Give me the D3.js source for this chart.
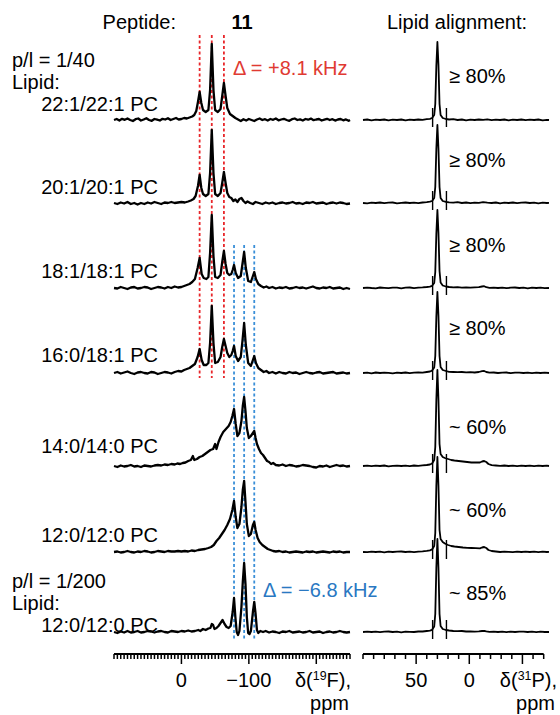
<!DOCTYPE html>
<html>
<head>
<meta charset="utf-8">
<script src="https://cdn.jsdelivr.net/npm/d3@7"></script>
<style>
  body { margin: 0; background: #fff; }
  text { font-family: "Liberation Sans", Arial, sans-serif; }
</style>
</head>
<body>
<div id="chart"></div>
<script>
// ---- data ----
const rowLabels = ['22:1/22:1 PC', '20:1/20:1 PC', '18:1/18:1 PC', '16:0/18:1 PC', '14:0/14:0 PC', '12:0/12:0 PC', '12:0/12:0 PC'];
const alignment = ['≥ 80%', '≥ 80%', '≥ 80%', '≥ 80%', '~ 60%', '~ 60%', '~ 85%'];
const ratioLabels = ['p/l = 1/40', 'p/l = 1/200'];
const redLines = [-27, -45, -63];   // 19F ppm
const blueLines = [-78, -93, -108]; // 19F ppm
const fLabelTicks = [0, -100];
const fMajorTicks = [0, -100, -200];
const pLabelTicks = [50, 0];
const pMajorTicks = [50, 0, -50];
const pMarks = [34.5, 21.5]; // little vertical markers on the 31P traces

// 19F spectra: [ppm, intensity]
const f1 = [[100,0],[96,1],[92,-0.5],[88,1.2],[84,0.2],[80,1.5],[76,0],[72,-1],[68,0.8],[64,1.5],[60,-0.5],[56,0.5],[52,1.8],[48,0],[44,-0.8],[40,1],[36,0.3],[32,-0.5],[28,1.2],[24,0.5],[20,1.8],[16,0],[12,1],[8,2],[4,0.5],[0,1],[-4,2],[-8,1.5],[-12,2.5],[-16,3.5],[-19,5],[-22,9],[-24.5,18],[-27,28],[-29.5,17],[-32,10],[-36,8],[-40,10],[-42.5,30],[-45,76],[-47.5,30],[-50,10],[-54,8],[-58,11],[-60.5,24],[-63,37],[-65.5,24],[-68,12],[-72,6],[-76,4],[-80,2],[-84,0.5],[-88,-1],[-92,0.8],[-96,-0.5],[-100,1],[-104,0],[-108,-1],[-112,0.5],[-116,1.5],[-120,0],[-124,0.8],[-128,-0.5],[-132,1],[-136,0.2],[-140,1.5],[-144,-0.3],[-148,0.5],[-152,1.2],[-156,0],[-160,-0.8],[-164,0.8],[-168,1.5],[-172,0],[-176,0.6],[-180,-0.5],[-184,1],[-188,0.3],[-192,1.4],[-196,-0.2],[-200,0.5],[-204,1],[-208,-0.5],[-212,0.4],[-216,1.2],[-220,0],[-224,0.8],[-228,-0.6],[-232,0.5],[-236,1],[-240,-0.3],[-244,0.6],[-248,-0.8],[-250,0]];
const f2 = [[100,0],[95,-1],[90,0.5],[85,-0.5],[80,1],[75,-1],[70,0],[65,-1.5],[60,0],[55,-1],[50,0.5],[45,-0.5],[40,1],[35,0],[30,-1],[25,0.5],[20,0],[15,1],[10,0],[5,0.5],[0,1],[-5,0.5],[-10,1.5],[-14,2.5],[-18,4],[-21,7],[-24.5,17],[-27,28],[-29.5,15],[-32,9],[-36,7],[-40,9],[-42.5,30],[-45,73],[-47.5,30],[-50,9],[-54,7],[-58,10],[-60.5,20],[-63,31],[-65.5,20],[-68,10],[-71,6],[-74,5],[-77,2],[-80,3.5],[-83,1],[-86,4],[-89,5],[-92,2],[-95,0],[-98,1.5],[-102,0],[-106,-1],[-110,1],[-115,0],[-120,-1],[-125,0.5],[-130,-0.5],[-135,0.5],[-140,-1],[-145,0],[-150,0.5],[-155,-0.5],[-160,0],[-165,1],[-170,-0.5],[-175,0],[-180,-1],[-185,0.5],[-190,0],[-195,1],[-200,-0.5],[-205,0],[-210,0.5],[-215,-1],[-220,0],[-225,0.5],[-230,-0.5],[-235,0.5],[-240,0],[-245,-1],[-250,-0.5]];
const f3 = [[100,0],[95,-0.5],[90,1],[85,0],[80,-1],[75,0.5],[70,1],[65,-0.5],[60,0],[55,1],[50,0.5],[45,-1],[40,0],[35,1],[30,0.5],[25,-0.5],[20,1],[15,0],[10,1.5],[5,0.5],[0,1],[-4,2],[-8,3],[-12,4],[-16,6],[-20,9],[-24,20],[-27,30],[-30,14],[-33,10],[-37,9],[-40,11],[-42.5,35],[-45,73],[-47.5,32],[-50,11],[-54,10],[-58,13],[-60.5,26],[-63,37],[-65.5,24],[-68,15],[-71,13],[-74,14],[-76,18],[-78,23],[-80.5,15],[-84,10],[-88,12],[-90.5,24],[-93,36],[-95.5,20],[-99,7],[-103,6],[-106,12],[-108,16],[-110.5,9],[-114,4],[-118,2],[-122,0.5],[-126,1.5],[-130,0],[-135,1],[-140,-0.5],[-145,0.5],[-150,0],[-155,1],[-160,-0.5],[-165,0],[-170,1],[-175,0],[-180,0.5],[-185,-0.5],[-190,0.5],[-195,1.5],[-200,0],[-205,-0.5],[-210,0.5],[-215,0],[-220,1],[-225,-0.5],[-230,0],[-235,0.5],[-240,-1],[-245,0],[-250,-1]];
const f4 = [[100,0],[95,1],[90,-0.5],[85,0.5],[80,1.5],[75,0],[70,-1],[65,0.5],[60,1],[55,0],[50,-0.5],[45,1],[40,0.5],[35,-1],[30,0],[25,1],[20,0.5],[15,-0.5],[10,1],[5,2],[0,1.5],[-4,3],[-8,4],[-12,5],[-16,7],[-20,9],[-24,16],[-27,24],[-30,13],[-33,8],[-37,8],[-40,10],[-42.5,30],[-45,67],[-47.5,30],[-50,10],[-54,11],[-58,16],[-60.5,26],[-63,34],[-65.5,27],[-68,20],[-71,16],[-74,18],[-76,22],[-78,27],[-80.5,17],[-84,12],[-88,16],[-90.5,32],[-93,50],[-95.5,28],[-99,10],[-103,7],[-106,13],[-108,17],[-110.5,10],[-114,5],[-118,3],[-122,1],[-126,2],[-130,0],[-135,1],[-140,-0.5],[-145,1],[-150,0],[-155,-0.5],[-160,1],[-165,0],[-170,0.5],[-175,-1],[-180,0],[-185,1],[-190,0],[-195,-0.5],[-200,0.5],[-205,1],[-210,-0.5],[-215,0],[-220,0.5],[-225,1],[-230,-0.5],[-235,0],[-240,0.5],[-245,-0.5],[-250,0]];
const f5 = [[100,0],[95,-1],[90,0.5],[85,-0.5],[80,0],[75,1],[70,-0.5],[65,0],[60,-1],[55,0.5],[50,0],[45,-0.5],[40,0.5],[35,1],[30,0.5],[25,1.5],[20,1],[15,2],[10,1.5],[6,2.5],[2,2],[-2,3],[-6,3.5],[-10,5],[-14,6],[-17,10],[-19,6],[-23,7],[-27,9],[-31,10],[-35,12],[-39,14],[-43,16],[-47,17],[-50,22],[-52,17],[-55,24],[-58,29],[-62,34],[-66,37],[-70,40],[-73,44],[-75.5,50],[-78,57],[-80.5,42],[-83,30],[-86,33],[-89,45],[-91,60],[-93,69],[-95,55],[-97,38],[-100,28],[-103,30],[-106,33],[-108,35],[-110,28],[-112,22],[-115,17],[-118,13],[-121,11],[-124,8],[-127,5],[-130,4],[-133,2],[-136,3],[-140,1],[-145,0.5],[-150,1.5],[-155,0],[-160,1],[-165,0.5],[-170,-0.5],[-175,0],[-180,1],[-185,0.5],[-190,0],[-195,-1],[-200,-1.5],[-205,0],[-210,-0.5],[-215,0.5],[-220,-1],[-225,0],[-230,1],[-235,0],[-240,0.5],[-245,-0.5],[-250,0]];
const f6 = [[100,0],[95,0.5],[90,-0.5],[85,0],[80,1],[75,0],[70,-0.5],[65,0.5],[60,0],[55,1],[50,0.5],[45,-0.5],[40,0],[35,1],[30,0.5],[25,0],[20,1],[15,0.5],[10,0.5],[5,1],[0,0.5],[-5,1],[-10,0.5],[-15,1.5],[-20,1],[-25,2],[-30,2.5],[-35,3],[-40,4],[-44,5],[-48,7],[-52,11],[-56,14],[-60,18],[-64,22],[-68,27],[-72,33],[-75.5,42],[-78,51],[-80.5,35],[-83,24],[-86,28],[-89,45],[-91,62],[-93,71],[-95,50],[-97,28],[-100,16],[-103,18],[-106,27],[-108,30],[-110,22],[-113,14],[-116,10],[-120,7],[-124,5],[-128,3],[-132,2],[-136,1],[-140,0.5],[-145,1],[-150,0],[-155,0.5],[-160,-0.5],[-165,0],[-170,0.5],[-175,0],[-180,-0.5],[-185,0.5],[-190,0],[-195,0.5],[-200,-0.5],[-205,0],[-210,0.5],[-215,0],[-220,-0.5],[-225,0.5],[-230,0],[-235,0.5],[-240,-0.5],[-245,0],[-250,0]];
const f7 = [[100,0],[95,-1],[90,0.5],[85,-0.5],[80,1],[75,-0.5],[70,0],[65,1],[60,-0.5],[55,0],[50,1],[45,0.5],[40,-0.5],[35,0.5],[30,1],[25,0],[20,-0.5],[15,1],[10,0.5],[5,0],[0,1],[-5,0.5],[-10,1.5],[-15,0.5],[-20,1],[-25,2],[-28,1],[-32,3],[-36,2],[-40,3.5],[-43,4],[-45,8],[-47,7],[-49,3],[-52,4],[-55,6],[-58,9],[-61,12],[-64,8],[-67,5],[-70,4],[-73,6],[-76,20],[-78,34],[-80,15],[-82,0],[-84,-3],[-86,1],[-89,25],[-91,50],[-93,69],[-95,48],[-97,15],[-99,-1],[-101,-2],[-103,1],[-106,20],[-108,30],[-110,18],[-112,2],[-114,-1],[-117,1],[-121,0],[-125,1],[-130,-0.5],[-135,0.5],[-140,0],[-145,-1],[-150,0.5],[-155,0],[-160,1],[-165,-0.5],[-170,0],[-175,0.5],[-180,-0.5],[-185,0],[-190,1],[-195,-0.5],[-200,0],[-205,0.5],[-210,-1],[-215,0],[-220,0.5],[-225,-0.5],[-230,0],[-235,1],[-240,0],[-245,-0.5],[-250,0]];

// 31P spectra: [ppm, intensity]
const p1 = [[100,0],[96,0.5],[92,-0.3],[88,0.4],[84,0],[80,0.5],[76,-0.3],[72,0.3],[68,0],[64,0.5],[60,-0.4],[56,0.3],[52,0],[48,0.5],[44,0.2],[40,0.8],[37,1.2],[35,2],[33,5],[32,16],[31,54],[30,78],[29,55],[28,16],[27,5],[25,2],[22,1],[19,0.5],[15,0.8],[11,0],[7,0.5],[3,-0.3],[-1,0.4],[-5,0],[-9,0.5],[-13,0.2],[-17,0.6],[-21,-0.2],[-25,0.3],[-29,0],[-33,0.5],[-37,-0.3],[-41,0.3],[-45,0],[-49,0.5],[-53,-0.2],[-57,0.3],[-61,0],[-65,0.5],[-69,-0.3],[-73,0.2],[-75,0]];
const p2 = [[100,0],[96,-0.3],[92,0.4],[88,0],[84,0.5],[80,-0.2],[76,0.3],[72,0.5],[68,-0.3],[64,0.2],[60,0.5],[56,0],[52,0.4],[48,-0.2],[44,0.5],[40,0.9],[37,1.3],[35,2],[33,5],[32,16],[31,54],[30,78],[29,54],[28,16],[27,5],[25,2],[22,1.2],[19,0.6],[15,0.3],[11,0.8],[7,0],[3,0.5],[-1,-0.2],[-5,0.4],[-9,0.2],[-13,0.8],[-17,0.3],[-21,0],[-25,0.5],[-29,-0.3],[-33,0.3],[-37,0],[-41,0.5],[-45,-0.2],[-49,0.3],[-53,0.5],[-57,0],[-61,0.3],[-65,-0.3],[-69,0.4],[-73,0],[-75,0.2]];
const p3 = [[100,0],[96,0.4],[92,0],[88,-0.3],[84,0.5],[80,0.2],[76,-0.2],[72,0.4],[68,0.3],[64,-0.3],[60,0.3],[56,0.5],[52,-0.2],[48,0.3],[44,0.6],[40,1],[37,1.4],[35,2.2],[33,5],[32,16],[31,54],[30,78],[29,55],[28,17],[27,5.5],[25,2.5],[22,1.5],[19,1],[15,0.6],[11,0.8],[7,0.4],[3,0.6],[-1,0.3],[-5,0.6],[-9,0.8],[-12,1.5],[-14,1.8],[-16,0.8],[-19,0.2],[-23,0.4],[-27,0],[-31,0.4],[-35,-0.2],[-39,0.3],[-43,0.5],[-47,0],[-51,0.3],[-55,-0.3],[-59,0.4],[-63,0],[-67,0.3],[-71,-0.2],[-75,0]];
const p4 = [[100,0],[96,0.3],[92,-0.3],[88,0.5],[84,0],[80,0.4],[76,0.2],[72,-0.3],[68,0.4],[64,0],[60,0.5],[56,-0.2],[52,0.3],[48,0.5],[44,0.4],[40,1],[37,1.5],[35,2.4],[33,5.5],[32,17],[31,56],[30,81],[29,57],[28,17],[27,6],[25,3],[22,2],[19,1.2],[15,1],[11,0.8],[7,1],[3,0.6],[-1,0.8],[-5,0.5],[-9,1],[-12,1.8],[-14,2],[-16,1],[-19,0.3],[-23,0.5],[-27,0],[-31,0.3],[-35,0.5],[-39,-0.2],[-43,0.3],[-47,0.4],[-51,0],[-55,0.4],[-59,-0.2],[-63,0.3],[-67,0],[-71,0.4],[-75,0]];
const p5 = [[100,0],[96,0.4],[92,-0.2],[88,0.3],[84,0],[80,0.5],[76,-0.3],[72,0.2],[68,0.4],[64,0],[60,0.3],[56,-0.2],[52,0.5],[48,0.2],[44,0.6],[40,1],[37,1.5],[35,2.5],[33,6],[32,19],[31,66],[30,96],[29,66],[28,22],[27,12],[25,9],[23,8],[20,7],[17,6],[14,5.5],[10,5],[6,4.5],[2,4],[-2,3.5],[-6,3.5],[-10,3.5],[-12,4.5],[-14,5],[-16,4],[-18,2],[-21,0.8],[-25,0.5],[-29,0.2],[-33,0.5],[-37,0],[-41,0.4],[-45,-0.2],[-49,0.3],[-53,0],[-57,0.4],[-61,-0.2],[-65,0.3],[-69,0],[-73,0.3],[-75,0]];
const p6 = [[100,0],[96,-0.2],[92,0.4],[88,0],[84,0.3],[80,-0.3],[76,0.4],[72,0],[68,0.3],[64,0.5],[60,0],[56,0.4],[52,-0.2],[48,0.4],[44,0.7],[40,1.1],[37,1.6],[35,2.6],[33,6],[32,19],[31,66],[30,95],[29,66],[28,22],[27,13],[25,10],[23,8.5],[20,7],[17,6],[14,5.5],[10,5],[6,4.5],[2,4.2],[-2,4],[-6,3.8],[-10,3.6],[-12,4.5],[-14,5],[-16,4],[-18,2],[-21,1],[-25,0.5],[-29,0],[-33,0.4],[-37,0.2],[-41,-0.2],[-45,0.3],[-49,0],[-53,0.4],[-57,0],[-61,0.3],[-65,-0.2],[-69,0.3],[-73,0],[-75,0.2]];
const p7 = [[100,0],[96,0.3],[92,0],[88,0.4],[84,-0.2],[80,0.3],[76,0.5],[72,0],[68,0.3],[64,-0.3],[60,0.4],[56,0.2],[52,0],[48,0.5],[44,0.5],[40,1],[37,1.4],[35,2.2],[33,5.5],[32,18],[31,64],[30,93],[29,64],[28,18],[27,6],[25,3],[22,2],[19,1.5],[15,1],[11,0.8],[7,1],[3,0.5],[-1,0.7],[-5,0.4],[-9,0.6],[-12,1],[-14,1.2],[-16,0.6],[-19,0.2],[-23,0.4],[-27,0],[-31,0.3],[-35,-0.2],[-39,0.4],[-43,0],[-47,0.3],[-51,0.4],[-55,0],[-59,0.3],[-63,-0.2],[-67,0.3],[-71,0],[-75,0]];

const fSpectra = [f1, f2, f3, f4, f5, f6, f7];
const pSpectra = [p1, p2, p3, p4, p5, p6, p7];

// ---- layout ----
const width = 560, height = 715;
const rowY = [120, 203, 288, 373, 466, 552, 632];       // trace baselines
const labelY = [111, 194, 278, 362, 453, 542, 632];     // row label baselines
const alignY = [83, 167, 252, 335, 434, 517, 600];
const fontSize = 20;

const svg = d3.select('#chart').append('svg')
  .attr('width', width)
  .attr('height', height);

const xF = d3.scaleLinear().domain([100, -250]).range([114, 350]);
const xP = d3.scaleLinear().domain([100, -75]).range([363, 549]);
const yRow = (i) => d3.scaleLinear().domain([0, 100]).range([rowY[i], rowY[i] - 100]);

// headers
svg.append('text').attr('x', 176).attr('y', 29).attr('text-anchor', 'end')
  .attr('font-size', fontSize).text('Peptide:');
svg.append('text').attr('x', 242).attr('y', 29).attr('text-anchor', 'middle')
  .attr('font-size', fontSize).attr('font-weight', 'bold').text('11');
svg.append('text').attr('x', 457).attr('y', 29).attr('text-anchor', 'middle')
  .attr('font-size', fontSize).text('Lipid alignment:');

// p/l + Lipid: headings
[[ratioLabels[0], 67], ['Lipid:', 89], [ratioLabels[1], 588], ['Lipid:', 610]].forEach(([t, y]) => {
  svg.append('text').attr('x', 12).attr('y', y).attr('font-size', fontSize).text(t);
});

// row labels
svg.selectAll('.rowlab').data(rowLabels).join('text')
  .attr('class', 'rowlab')
  .attr('x', 158)
  .attr('y', (d, i) => labelY[i])
  .attr('text-anchor', 'end')
  .attr('font-size', fontSize)
  .text((d) => d);

// dashed guide lines (behind the traces)
svg.selectAll('.red').data(redLines).join('line')
  .attr('class', 'red')
  .attr('x1', (d) => xF(d)).attr('x2', (d) => xF(d))
  .attr('y1', 35).attr('y2', 378)
  .attr('stroke', '#e8262a').attr('stroke-width', 1.8)
  .attr('stroke-dasharray', '3,2.5');
svg.selectAll('.blue').data(blueLines).join('line')
  .attr('class', 'blue')
  .attr('x1', (d) => xF(d)).attr('x2', (d) => xF(d))
  .attr('y1', 245).attr('y2', 640)
  .attr('stroke', '#3a8fd8').attr('stroke-width', 1.8)
  .attr('stroke-dasharray', '3,2.5');

// spectra
const lineF = (i) => d3.line().x((d) => xF(d[0])).y((d) => yRow(i)(d[1]));
const lineP = (i) => d3.line().x((d) => xP(d[0])).y((d) => yRow(i)(d[1]));

svg.selectAll('.fspec').data(fSpectra).join('path')
  .attr('class', 'fspec')
  .attr('d', (d, i) => lineF(i)(d))
  .attr('fill', 'none')
  .attr('stroke', '#000')
  .attr('stroke-width', 2.3)
  .attr('stroke-linejoin', 'round');

svg.selectAll('.pspec').data(pSpectra).join('path')
  .attr('class', 'pspec')
  .attr('d', (d, i) => lineP(i)(d))
  .attr('fill', 'none')
  .attr('stroke', '#000')
  .attr('stroke-width', 1.8)
  .attr('stroke-linejoin', 'round');

// small markers on 31P traces
rowY.forEach((y0, i) => {
  svg.selectAll(`.pm${i}`).data(pMarks).join('line')
    .attr('class', `pm${i}`)
    .attr('x1', (d) => xP(d)).attr('x2', (d) => xP(d))
    .attr('y1', yRow(i)(12)).attr('y2', yRow(i)(-7))
    .attr('stroke', '#000').attr('stroke-width', 1.4);
});

svg.append('text').attr('x', 233).attr('y', 75).attr('font-size', fontSize)
  .attr('fill', '#e03a32').text('Δ = +8.1 kHz');
svg.append('text').attr('x', 263).attr('y', 597).attr('font-size', fontSize)
  .attr('fill', '#2a78c2').text('Δ = −6.8 kHz');

// alignment labels
svg.selectAll('.align').data(alignment).join('text')
  .attr('class', 'align')
  .attr('x', 449)
  .attr('y', (d, i) => alignY[i])
  .attr('font-size', fontSize)
  .text((d) => d);

// axes
const axisY = 654;
const drawAxis = (x, step, majors, labels, lo, hi) => {
  const g = svg.append('g');
  g.append('line').attr('x1', x(lo)).attr('x2', x(hi))
    .attr('y1', axisY).attr('y2', axisY)
    .attr('stroke', '#000').attr('stroke-width', 2);
  const ticks = d3.range(lo, hi - 0.001, -step);
  g.selectAll('.tk').data(ticks).join('line')
    .attr('class', 'tk')
    .attr('x1', (d) => x(d)).attr('x2', (d) => x(d))
    .attr('y1', axisY)
    .attr('y2', (d) => axisY + (majors.includes(d) ? 10 : 5))
    .attr('stroke', '#000').attr('stroke-width', 1.5);
  g.selectAll('.lb').data(labels).join('text')
    .attr('class', 'lb')
    .attr('x', (d) => x(d)).attr('y', axisY + 33)
    .attr('text-anchor', 'middle').attr('font-size', fontSize)
    .text((d) => (d < 0 ? '−' + Math.abs(d) : d));
};
drawAxis(xF, 5, fMajorTicks, fLabelTicks, 100, -250);
drawAxis(xP, 10, pMajorTicks, pLabelTicks, 100, -70);

// axis titles
const axTitle = (xEnd, nucleus, sup) => {
  const t = svg.append('text').attr('x', xEnd).attr('y', axisY + 33)
    .attr('text-anchor', 'end').attr('font-size', fontSize);
  t.append('tspan').text('δ(');
  t.append('tspan').attr('font-size', fontSize * 0.62).attr('dy', -7).text(sup);
  t.append('tspan').attr('dy', 7).text(nucleus + '),');
  svg.append('text').attr('x', xEnd - 2).attr('y', axisY + 56)
    .attr('text-anchor', 'end').attr('font-size', fontSize).text('ppm');
};
axTitle(351, 'F', '19');
axTitle(557, 'P', '31');
</script>
</body>
</html>
